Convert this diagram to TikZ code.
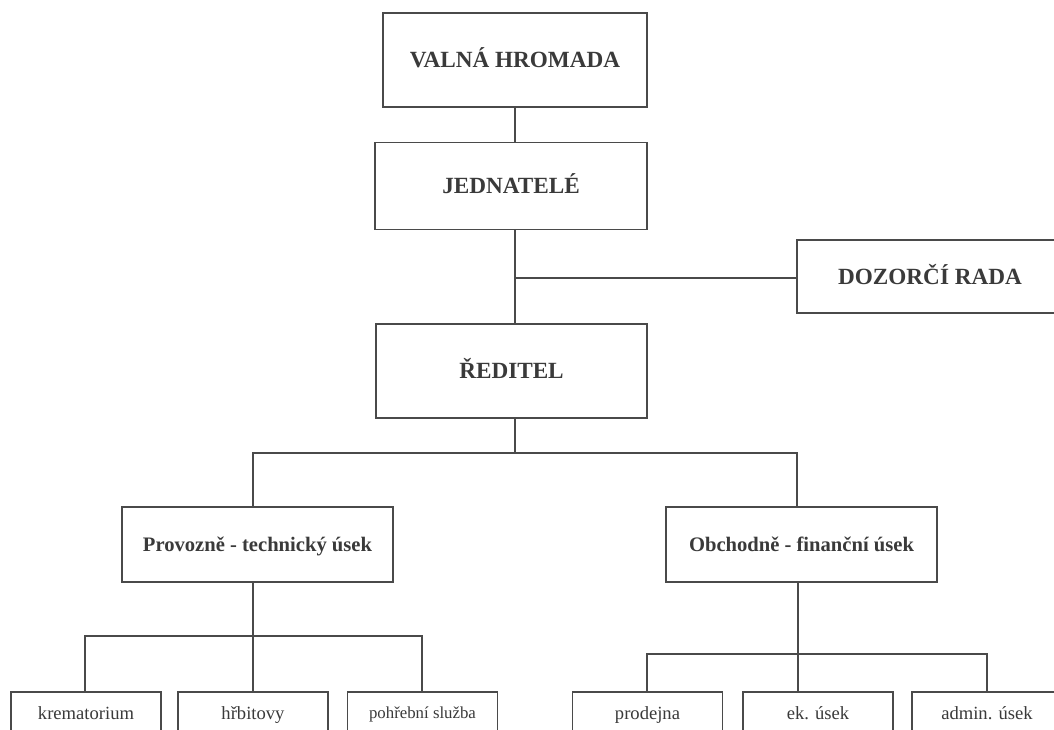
\documentclass[tikz,border=0pt]{standalone}
\usepackage{fontspec}
\setmainfont{Liberation Serif}
\definecolor{ink}{HTML}{3A3A3A}
\definecolor{linec}{HTML}{4A4A4A}
\begin{document}
\begin{tikzpicture}[x=1pt,y=-1pt,
  box/.style={draw=linec,line width=1.4pt,rectangle,inner sep=0pt,text=ink,align=center,text depth=0pt},
  bigbox/.style={box,font=\fontsize{23.2}{27}\selectfont\bfseries,text height=15.3pt},
  midbox/.style={box,font=\fontsize{20.6}{24}\selectfont\bfseries,text height=13.6pt},
  smallbox/.style={box,font=\fontsize{18.6}{22}\selectfont,text height=12.3pt,minimum width=150pt,minimum height=42pt},
  conn/.style={draw=linec,line width=1.4pt}]
\fill[white] (0,0) rectangle (1054,730);
\useasboundingbox (0,0) rectangle (1054,730);
\clip (0,0) rectangle (1054,730);
% top chain
\node[bigbox,minimum width=264pt,minimum height=94pt] (valna) at (515,60) {VALNÁ HROMADA};
\node[bigbox,minimum width=272pt,minimum height=87pt] (jedn) at (511,186) {JEDNATELÉ};
\node[bigbox,minimum width=266pt,minimum height=73pt] (dozor) at (930,276.5) {DOZORČÍ RADA};
\node[bigbox,minimum width=271pt,minimum height=94pt] (red) at (511.5,371) {ŘEDITEL};
\node[midbox,minimum width=271pt,minimum height=75pt] (prov) at (257.5,544.5) {Provozně - technický úsek};
\node[midbox,minimum width=271pt,minimum height=75pt] (obch) at (801.5,544.5) {Obchodně - finanční úsek};
% bottom boxes
\node[smallbox] (krem) at (86,713) {krematorium};
\node[smallbox] (hrb) at (253,713) {hřbitovy};
\node[smallbox,font=\fontsize{16.8}{20}\selectfont,text height=11.3pt] (pohr) at (422.5,713) {pohřební služba};
\node[smallbox] (prod) at (647.5,713) {prodejna};
\node[smallbox] (ek) at (818,713) {ek. úsek};
\node[smallbox] (admin) at (987,713) {admin. úsek};
% junctions
\coordinate (jd) at (515,278);
\coordinate (jr) at (515,453);
\coordinate (jrl) at (253,453);
\coordinate (jrr) at (797,453);
\coordinate (jp) at (253,636);
\coordinate (jpl) at (85,636);
\coordinate (jpr) at (422,636);
\coordinate (jo) at (798,654);
\coordinate (jol) at (647,654);
\coordinate (jor) at (987,654);
% connectors
\draw[conn] (valna.south) -- (valna.south |- jedn.north);
\draw[conn] (jd |- jedn.south) -- (jd |- red.north);
\draw[conn] (jd) -- (dozor.west |- jd);
\draw[conn] (jr |- red.south) -- (jr);
\draw[conn] (jrl |- prov.north) -- (jrl) -- (jrr) -- (jrr |- obch.north);
\draw[conn] (jp |- prov.south) -- (jp |- hrb.north);
\draw[conn] (jpl |- krem.north) -- (jpl) -- (jpr) -- (jpr |- pohr.north);
\draw[conn] (jo |- obch.south) -- (jo |- ek.north);
\draw[conn] (jol |- prod.north) -- (jol) -- (jor) -- (jor |- admin.north);
\end{tikzpicture}
\end{document}
